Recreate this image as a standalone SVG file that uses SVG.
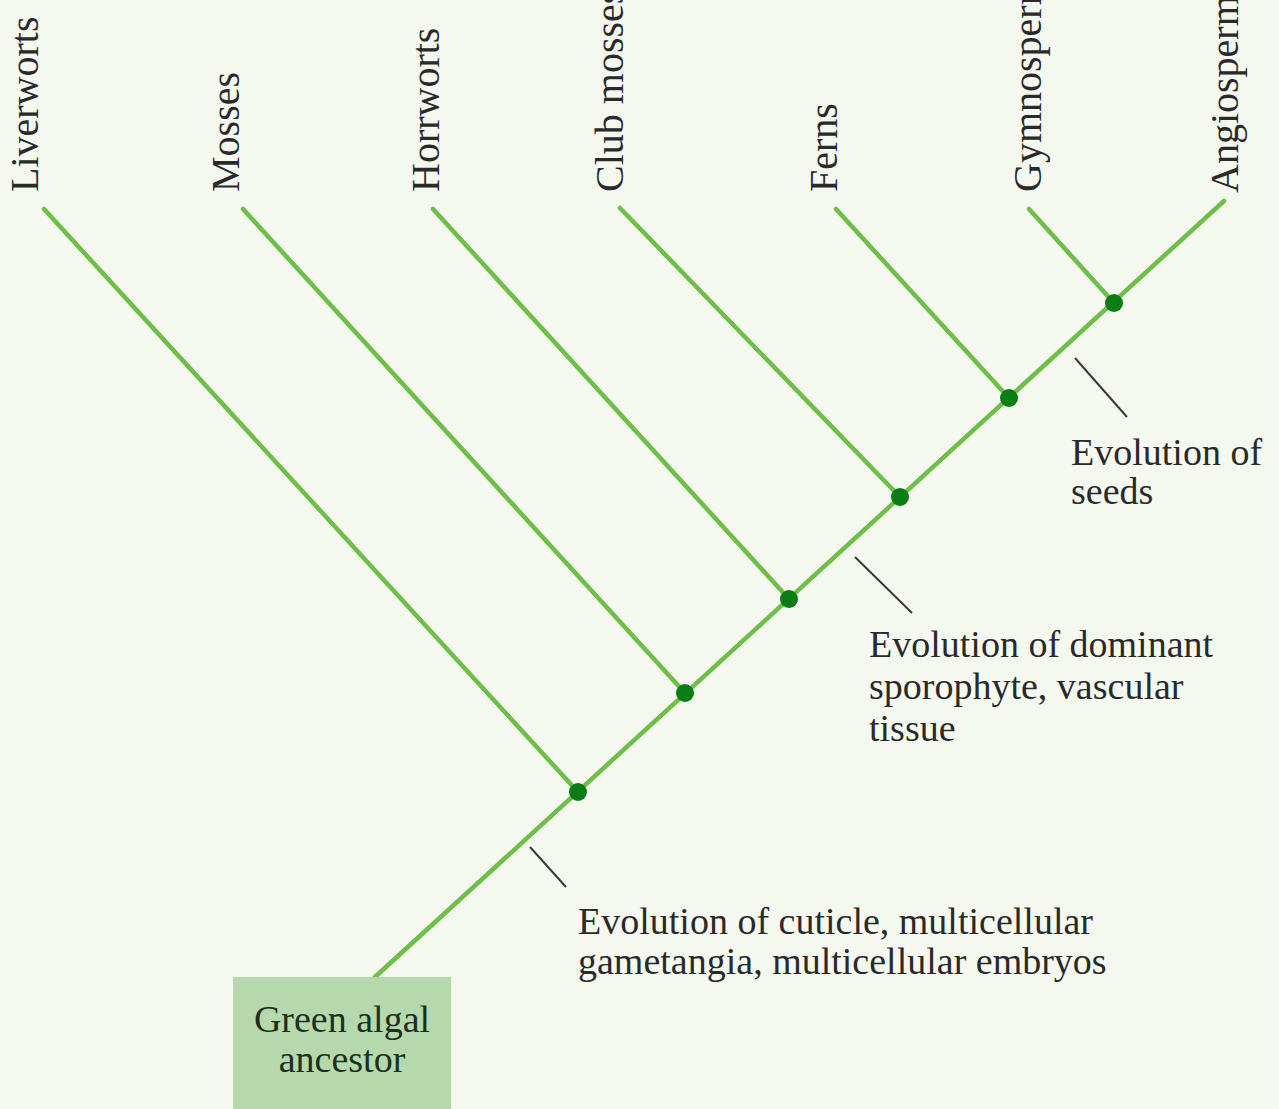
<svg xmlns="http://www.w3.org/2000/svg" width="1279" height="1109" viewBox="0 0 1279 1109">
  <style>
    .br { stroke: #6dbf47; stroke-width: 4.5; stroke-linecap: round; fill: none; }
    .tick { stroke: #3a3a3a; stroke-width: 2; }
    .dot { fill: #0a7d14; }
    .lbl { font-family: "Liberation Serif", "Times New Roman", serif; font-size: 40px; fill: #2a2a2a; }
    .ann { font-family: "Liberation Serif", "Times New Roman", serif; font-size: 38px; fill: #2a2a2a; }
    .box { fill: #b5d9ad; }
    .boxt { font-family: "Liberation Serif", "Times New Roman", serif; font-size: 38px; fill: #1c301c; text-anchor: middle; }
  </style>
  <rect width="1279" height="1109" fill="#f5f8ef"/>

  <g id="connectors">
    <line class="br" x1="375" y1="977" x2="1224" y2="201"/>
    <line class="br" x1="44" y1="209" x2="578" y2="792"/>
    <line class="br" x1="243" y1="209" x2="685" y2="693"/>
    <line class="br" x1="433" y1="209" x2="789" y2="599"/>
    <line class="br" x1="620" y1="208" x2="900" y2="497"/>
    <line class="br" x1="836" y1="209" x2="1009" y2="398"/>
    <line class="br" x1="1029" y1="209" x2="1114" y2="303"/>
  </g>

  <g id="branch-points">
    <circle class="dot" cx="578" cy="792" r="9"/>
    <circle class="dot" cx="685" cy="693" r="9"/>
    <circle class="dot" cx="789" cy="599" r="9"/>
    <circle class="dot" cx="900" cy="497" r="9"/>
    <circle class="dot" cx="1009" cy="398" r="9"/>
    <circle class="dot" cx="1114" cy="303" r="9"/>
  </g>

  <g id="taxon-liverworts"><text class="lbl" transform="translate(38,192) rotate(-90)">Liverworts</text></g>
  <g id="taxon-mosses"><text class="lbl" transform="translate(239,192) rotate(-90)">Mosses</text></g>
  <g id="taxon-horrworts"><text class="lbl" transform="translate(439,192) rotate(-90)">Horrworts</text></g>
  <g id="taxon-clubmosses"><text class="lbl" transform="translate(623,192) rotate(-90)">Club mosses</text></g>
  <g id="taxon-ferns"><text class="lbl" transform="translate(837,192) rotate(-90)">Ferns</text></g>
  <g id="taxon-gymnosperms"><text class="lbl" transform="translate(1041,192) rotate(-90)">Gymnosperms</text></g>
  <g id="taxon-angiosperms"><text class="lbl" transform="translate(1238,193) rotate(-90)">Angiosperms</text></g>

  <g id="note-seeds">
    <line class="tick" x1="1075" y1="358" x2="1127" y2="417"/>
    <text class="ann" x="1071" y="465">Evolution of</text>
    <text class="ann" x="1071" y="504">seeds</text>
  </g>

  <g id="note-vascular">
    <line class="tick" x1="855" y1="557" x2="912" y2="613"/>
    <text class="ann" x="869" y="657">Evolution of dominant</text>
    <text class="ann" x="869" y="699">sporophyte, vascular</text>
    <text class="ann" x="869" y="741">tissue</text>
  </g>

  <g id="note-cuticle">
    <line class="tick" x1="530" y1="847" x2="566" y2="887"/>
    <text class="ann" x="578" y="934">Evolution of cuticle, multicellular</text>
    <text class="ann" x="578" y="974">gametangia, multicellular embryos</text>
  </g>

  <g id="node-ancestor">
    <rect class="box" x="233" y="977" width="218" height="140"/>
    <text class="boxt" x="342" y="1032">Green algal</text>
    <text class="boxt" x="342" y="1072">ancestor</text>
  </g>
</svg>
